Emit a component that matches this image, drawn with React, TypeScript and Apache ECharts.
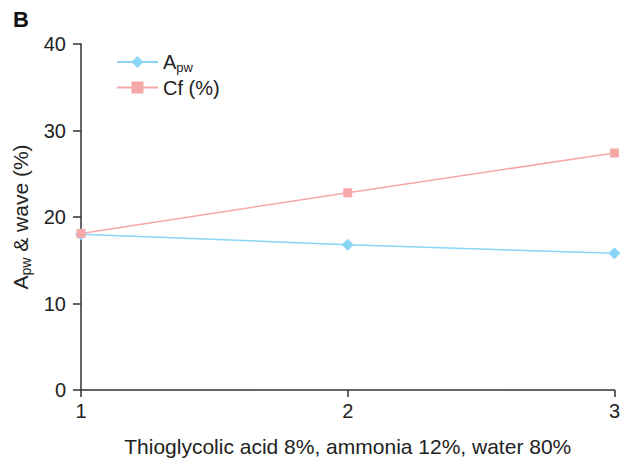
import React, { useEffect, useRef } from "react";
import * as echarts from "echarts";

const xValues = [1, 2, 3];
const apwValues = [18.0, 16.8, 15.8];
const cfValues = [18.1, 22.8, 27.4];
const yTicks = { min: 0, max: 40, interval: 10 };

const FONT = "Liberation Sans, Arial, sans-serif";
const BLUE = "#8ad6f6";
const PINK = "#f5a8a8";
const AXIS = "#333333";

export default function App() {
  const ref = useRef<HTMLDivElement>(null);
  useEffect(() => {
    if (!ref.current) return;
    const chart = echarts.init(ref.current, undefined, { renderer: "svg" });
    const richLegend = {
      a: { fontSize: 20, fontFamily: FONT, color: "#222" },
      s: { fontSize: 13, fontFamily: FONT, color: "#222", verticalAlign: "bottom", padding: [10, 0, 0, 0] },
    };
    const richName = {
      a: { fontSize: 21, fontFamily: FONT, color: "#222" },
      s: { fontSize: 14, fontFamily: FONT, color: "#222", verticalAlign: "bottom", padding: [10, 0, 0, 0] },
    };
    chart.setOption({
      animation: false,
      graphic: [
        { type: "text", left: 13, top: 8, style: { text: "B", font: `bold 22px ${FONT}`, fill: "#111" } },
      ],
      legend: {
        left: 111,
        top: 47,
        orient: "vertical",
        itemWidth: 41,
        itemHeight: 15,
        itemGap: 4,
        textStyle: { fontSize: 20, fontFamily: FONT, color: "#222", rich: richLegend },
        formatter: (name: string) => (name === "Apw" ? "{a|A}{s|pw}" : "{a|" + name + "}"),
        data: ["Apw", "Cf (%)"],
      },
      grid: { left: 81, right: 3, top: 44, bottom: 67, containLabel: false },
      xAxis: {
        type: "value",
        min: 1,
        max: 3,
        interval: 1,
        name: "Thioglycolic acid 8%, ammonia 12%, water 80%",
        nameLocation: "middle",
        nameGap: 46,
        nameTextStyle: { fontSize: 21, fontFamily: FONT, color: "#222" },
        axisLine: { lineStyle: { color: AXIS, width: 1.5 } },
        axisTick: { show: true, length: 7, lineStyle: { color: AXIS, width: 1.5 } },
        axisLabel: { fontSize: 20, fontFamily: FONT, color: "#222", margin: 11 },
        splitLine: { show: false },
      },
      yAxis: {
        type: "value",
        min: yTicks.min,
        max: yTicks.max,
        interval: yTicks.interval,
        name: "{a|A}{s|pw}{a| & wave (%)}",
        nameLocation: "middle",
        nameGap: 47,
        nameRotate: 90,
        nameTextStyle: { fontSize: 21, fontFamily: FONT, color: "#222", rich: richName },
        axisLine: { show: true, lineStyle: { color: AXIS, width: 1.5 } },
        axisTick: { show: true, length: 8, lineStyle: { color: AXIS, width: 1.5 } },
        axisLabel: { fontSize: 20, fontFamily: FONT, color: "#222", margin: 15 },
        splitLine: { show: false },
      },
      series: [
        {
          name: "Apw",
          type: "line",
          data: xValues.map((x, i) => [x, apwValues[i]]),
          symbol: "diamond",
          symbolSize: 12,
          lineStyle: { color: BLUE, width: 1.5 },
          itemStyle: { color: BLUE },
          clip: false,
        },
        {
          name: "Cf (%)",
          type: "line",
          data: xValues.map((x, i) => [x, cfValues[i]]),
          symbol: "rect",
          symbolSize: 9,
          lineStyle: { color: PINK, width: 1.5 },
          itemStyle: { color: PINK },
          clip: false,
        },
      ],
    });
    return () => chart.dispose();
  }, []);
  return <div ref={ref} style={{ width: 623, height: 462, position: "absolute", left: 0, top: 0 }} />;
}
